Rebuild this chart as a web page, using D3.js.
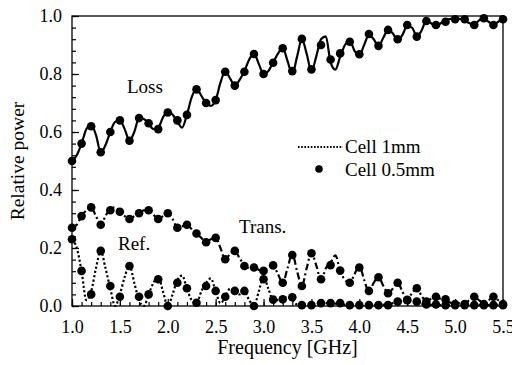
<!DOCTYPE html>
<html>
<head>
<meta charset="utf-8">
<script src="https://cdn.jsdelivr.net/npm/d3@7"></script>
<style>
  html, body { margin: 0; padding: 0; background: #fff; }
  svg text { font-family: "Liberation Serif", "Times New Roman", Times, "DejaVu Serif", serif; }
</style>
</head>
<body>
<svg id="chart" width="512" height="365"></svg>
<script>
// Frequency grid of the 0.5 mm cell measurements (GHz)
const freqDots = [1.0,1.1,1.2,1.3,1.4,1.5,1.6,1.7,1.8,1.9,2.0,2.1,2.2,2.3,2.4,2.5,2.6,2.7,2.8,2.9,
  3.0,3.1,3.2,3.3,3.4,3.5,3.6,3.7,3.8,3.9,4.0,4.1,4.2,4.3,4.4,4.5,4.6,4.7,4.8,4.9,5.0,5.1,5.2,5.3,5.4,5.5];

// Cell 0.5mm (dots)
const lossDots = [0.50,0.56,0.62,0.53,0.60,0.64,0.57,0.648,0.63,0.61,0.667,0.64,0.659,0.747,0.70,0.71,0.808,0.76,0.808,0.869,
  0.80,0.839,0.889,0.81,0.921,0.816,0.90,0.85,0.871,0.911,0.868,0.938,0.897,0.952,0.92,0.969,0.929,0.983,0.969,0.98,0.989,0.989,0.969,0.992,0.969,0.989];
const transDots = [0.27,0.31,0.34,0.28,0.33,0.325,0.30,0.32,0.33,0.30,0.32,0.27,0.28,0.25,0.22,0.235,0.161,0.19,0.138,0.133,
  0.121,0.14,0.08,0.176,0.069,0.182,0.092,0.141,0.122,0.08,0.133,0.052,0.099,0.044,0.08,0.021,0.061,0.015,0.032,0.023,0.007,0.007,0.032,0.007,0.032,0.007];
const refDots = [0.23,0.121,0.04,0.19,0.069,0.032,0.138,0.032,0.04,0.092,0.0,0.08,0.061,0.011,0.069,0.052,0.032,0.052,0.052,0.0,
  0.092,0.022,0.023,0.03,0.003,0.003,0.01,0.01,0.01,0.003,0.003,0.003,0.003,0.003,0.015,0.02,0.015,0.005,0.005,0.003,0.003,0.003,0.003,0.003,0.003,0.003];

// Frequency grid of the 1 mm cell curves (GHz)
const freqLine = [1.00,1.05,1.10,1.15,1.20,1.25,1.30,1.35,1.40,1.45,1.50,1.55,1.60,1.65,1.70,1.75,1.80,1.85,1.90,1.95,
  2.00,2.05,2.10,2.15,2.20,2.25,2.30,2.35,2.40,2.45,2.50,2.55,2.60,2.65,2.70,2.75,2.80,2.85,2.90,2.95,
  3.00,3.05,3.10,3.15,3.20,3.25,3.30,3.35,3.40,3.45,3.50,3.55,3.60,3.65,3.70,3.75,3.80,3.85,3.90,3.95,
  4.00,4.05,4.10,4.15,4.20,4.25,4.30,4.35,4.40,4.45,4.50,4.55,4.60,4.65,4.70,4.75,4.80,4.85,4.90,4.95,
  5.00,5.05,5.10,5.15,5.20,5.25,5.30,5.35,5.40,5.45,5.50];

// Cell 1mm (lines)
const lossLine = [0.50,0.52,0.56,0.61,0.625,0.59,0.53,0.555,0.60,0.635,0.64,0.61,0.57,0.60,0.648,0.645,0.63,0.61,0.615,0.65,
  0.672,0.66,0.635,0.615,0.66,0.72,0.75,0.725,0.70,0.69,0.71,0.77,0.81,0.785,0.76,0.78,0.81,0.85,0.87,0.835,
  0.80,0.81,0.84,0.87,0.89,0.845,0.80,0.86,0.92,0.87,0.81,0.86,0.92,0.93,0.84,0.815,0.86,0.90,0.915,0.88,
  0.865,0.90,0.935,0.92,0.895,0.925,0.952,0.94,0.915,0.935,0.965,0.96,0.93,0.95,0.985,0.975,0.965,0.975,0.985,0.99,
  0.99,0.99,0.985,0.975,0.97,0.985,0.99,0.98,0.97,0.98,0.99];
const transLine = [0.27,0.28,0.31,0.33,0.34,0.31,0.28,0.31,0.335,0.34,0.325,0.31,0.30,0.31,0.32,0.33,0.33,0.315,0.30,0.31,
  0.32,0.30,0.27,0.275,0.28,0.265,0.25,0.235,0.22,0.23,0.235,0.20,0.16,0.18,0.19,0.165,0.14,0.13,0.133,0.125,
  0.12,0.135,0.14,0.11,0.08,0.13,0.18,0.12,0.07,0.13,0.185,0.14,0.09,0.13,0.15,0.175,0.12,0.09,0.08,0.11,
  0.14,0.09,0.05,0.08,0.10,0.07,0.045,0.06,0.08,0.05,0.02,0.045,0.06,0.035,0.015,0.025,0.03,0.025,0.02,0.012,
  0.007,0.01,0.01,0.02,0.03,0.02,0.01,0.02,0.03,0.02,0.008];
const refLine = [0.23,0.20,0.12,0.02,0.05,0.13,0.19,0.13,0.06,0.0,0.04,0.10,0.14,0.08,0.02,0.0,0.04,0.08,0.10,0.05,
  0.0,0.04,0.09,0.105,0.06,0.02,0.01,0.05,0.08,0.095,0.05,0.01,0.03,0.06,0.055,0.04,0.05,0.02,0.0,0.05,
  0.10,0.06,0.02,0.02,0.025,0.03,0.02,0.005,0.003,0.003,0.004,0.006,0.01,0.01,0.01,0.008,0.006,0.004,0.003,0.003,
  0.003,0.003,0.003,0.003,0.003,0.004,0.006,0.01,0.014,0.018,0.02,0.017,0.012,0.008,0.005,0.004,0.003,0.003,0.003,0.003,
  0.003,0.003,0.003,0.003,0.003,0.003,0.003,0.003,0.003,0.003,0.003];

const xMajor = [1.0,1.5,2.0,2.5,3.0,3.5,4.0,4.5,5.0,5.5];
const yMajor = [0.0,0.2,0.4,0.6,0.8,1.0];

const FONT = '"Liberation Serif", "Times New Roman", Times, "DejaVu Serif", serif';

const svg = d3.select("#chart");
const m = { left: 72, right: 503, top: 16, bottom: 306 };

const x = d3.scaleLinear().domain([1.0, 5.5]).range([m.left, m.right]);
const y = d3.scaleLinear().domain([0, 1.0]).range([m.bottom, m.top]);

// minor ticks (inward)
const xMinor = d3.range(1.0, 5.5001, 0.1);
const yMinor = d3.range(0, 1.0001, 0.04);

svg.append("g").attr("transform", `translate(0,${m.bottom})`)
  .call(d3.axisBottom(x).tickValues(xMinor).tickSize(-4).tickFormat(""))
  .call(g => g.select(".domain").remove());
svg.append("g").attr("transform", `translate(${m.left},0)`)
  .call(d3.axisLeft(y).tickValues(yMinor).tickSize(-4).tickFormat(""))
  .call(g => g.select(".domain").remove());

// major ticks with labels
const xAxis = svg.append("g").attr("transform", `translate(0,${m.bottom})`)
  .call(d3.axisBottom(x).tickValues(xMajor).tickSize(-7).tickPadding(14).tickFormat(d3.format(".1f")));
xAxis.select(".domain").remove();

const yAxis = svg.append("g").attr("transform", `translate(${m.left},0)`)
  .call(d3.axisLeft(y).tickValues(yMajor).tickSize(-7).tickPadding(10).tickFormat(d3.format(".1f")));
yAxis.select(".domain").remove();

[xAxis, yAxis].forEach(a => a.attr("font-family", FONT).attr("font-size", 18)
  .selectAll("text").attr("font-family", FONT).attr("font-size", 18).attr("fill", "#000"));

svg.selectAll(".tick line").attr("stroke", "#000").attr("stroke-width", 1.2);

// plot frame
svg.append("rect")
  .attr("x", m.left).attr("y", m.top)
  .attr("width", m.right - m.left).attr("height", m.bottom - m.top)
  .attr("fill", "none").attr("stroke", "#000").attr("stroke-width", 1.3);

// curves of the 1 mm cell
const line = d3.line().x(d => x(d[0])).y(d => y(d[1])).curve(d3.curveMonotoneX);
const curves = [
  { v: lossLine, dash: null },
  { v: transLine, dash: "7,3,2,3" },
  { v: refLine, dash: "2.2,2.2" }
];
curves.forEach(c => {
  svg.append("path")
    .datum(freqLine.map((f, i) => [f, c.v[i]]))
    .attr("d", line)
    .attr("fill", "none")
    .attr("stroke", "#000")
    .attr("stroke-width", 2.2)
    .attr("stroke-dasharray", c.dash);
});

// dots of the 0.5 mm cell
[lossDots, transDots, refDots].forEach(vals => {
  svg.append("g").selectAll("circle")
    .data(freqDots.map((f, i) => [f, vals[i]]))
    .join("circle")
    .attr("cx", d => x(d[0]))
    .attr("cy", d => y(d[1]))
    .attr("r", 4.3)
    .attr("fill", "#000");
});

// curve labels
const txt = (t, px, py, size) => svg.append("text").attr("x", px).attr("y", py)
  .attr("font-family", FONT).attr("font-size", size).attr("fill", "#000").text(t);
txt("Loss", 127, 93, 19);
txt("Trans.", 239, 233, 19);
txt("Ref.", 118, 250, 19);

// legend
svg.append("line").attr("x1", 298).attr("x2", 343).attr("y1", 147).attr("y2", 147)
  .attr("stroke", "#000").attr("stroke-width", 2).attr("stroke-dasharray", "1.6,1.6");
txt("Cell 1mm", 345, 153, 19);
svg.append("circle").attr("cx", 319).attr("cy", 169).attr("r", 3.8).attr("fill", "#000");
txt("Cell 0.5mm", 345, 176, 19);

// axis titles
txt("Frequency [GHz]", (m.left + m.right) / 2, 354, 20).attr("text-anchor", "middle");
svg.append("text").attr("transform", `translate(24,${(m.top + m.bottom) / 2}) rotate(-90)`)
  .attr("text-anchor", "middle").attr("font-family", FONT).attr("font-size", 19.5)
  .attr("fill", "#000").text("Relative power");
</script>
</body>
</html>
